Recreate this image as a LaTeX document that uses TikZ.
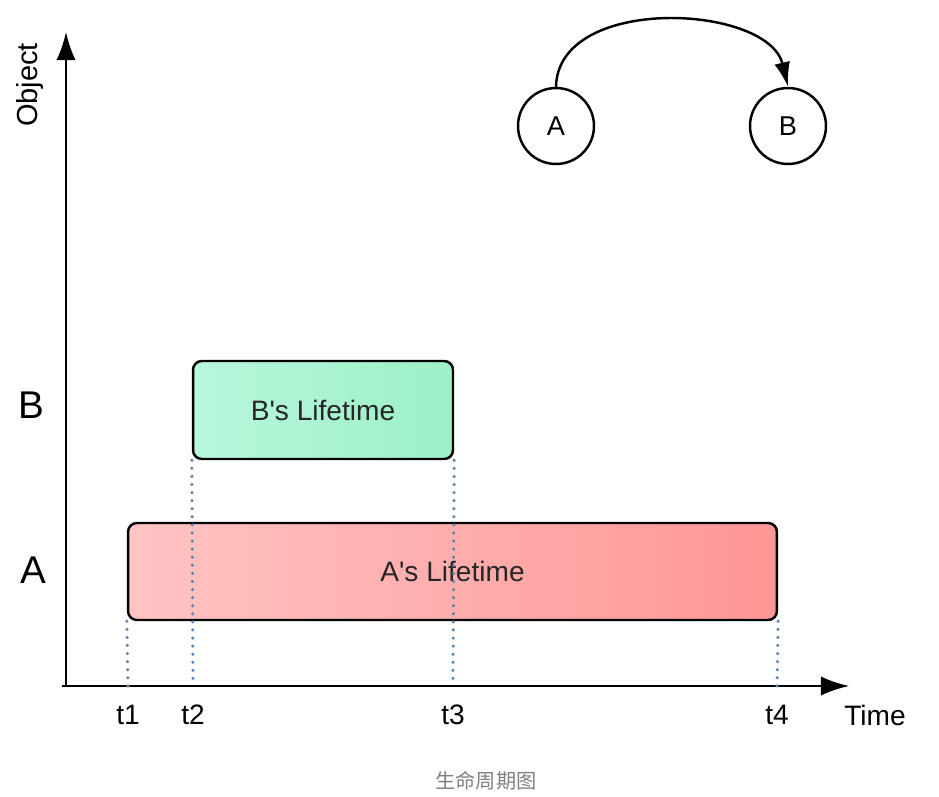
\documentclass[tikz,border=0pt]{standalone}
\usepackage{fontspec}
\setmainfont{Liberation Sans}
\newfontfamily\cjk{Noto Sans CJK SC}
\usetikzlibrary{arrows.meta}

\definecolor{bfillL}{RGB}{184,247,220}
\definecolor{bfillR}{RGB}{156,240,200}
\definecolor{afillL}{RGB}{255,196,196}
\definecolor{afillR}{RGB}{255,150,150}
\definecolor{dotblue}{RGB}{95,135,175}

\tikzset{
	axis/.style={line width=1.4pt, -{Latex[length=16pt,width=11pt]}},
	lifebox/.style={draw, line width=1.4pt, rounded corners=5pt, font=\fontsize{16}{18}\selectfont, text=black!85},
	objnode/.style={circle, draw, line width=1.4pt, minimum size=1.52cm, font=\fontsize{15.5}{17}\selectfont},
	guide/.style={dotblue, line width=2pt, line cap=round, dash pattern=on 0pt off 4.6pt},
	tick/.style={font=\fontsize{16}{18}\selectfont}
}

\begin{document}
\begin{tikzpicture}[x=0.02cm, y=-0.02cm]

	\useasboundingbox (0,0) rectangle (939,797);

	% axes
	\coordinate (o) at (66,686);
	\coordinate (ytop) at (66,32);
	\coordinate (xstart) at (62,686);
	\coordinate (xend) at (849,686);
	\draw[axis] (o) -- (ytop);
	\draw[axis] (xstart) -- (xend);

	\node (ylab) [rotate=90, font=\fontsize{16.5}{18}\selectfont] at (30,85) {Object};
	\node (xlab) [tick] at (875,715) {Time};
	\node (yb) [font=\fontsize{22}{24}\selectfont] at (31,405) {B};
	\node (ya) [font=\fontsize{22}{24}\selectfont] at (33,570) {A};

	% lifetimes
	\node (lb) [lifebox, left color=bfillL, right color=bfillR, minimum width=5.2cm, minimum height=1.96cm] at (323,410) {B\textquotesingle s Lifetime};
	\node (la) [lifebox, left color=afillL, right color=afillR, minimum width=12.98cm, minimum height=1.94cm] at (452.5,571.5) {A\textquotesingle s Lifetime};

	% ticks
	\coordinate (t1) at (128,686);
	\coordinate (t2) at (193,686);
	\coordinate (t3) at (453,686);
	\coordinate (t4) at (777,686);
	\node (lt1) [tick] at (128,715) {t1};
	\node (lt2) [tick] at (193,715) {t2};
	\node (lt3) [tick] at (453,715) {t3};
	\node (lt4) [tick] at (777,715) {t4};

	\draw[guide] (la.south west) -- (t1);
	\draw[guide] (lb.south west) -- (t2);
	\draw[guide] (lb.south east) -- (t3);
	\draw[guide] (la.south east) -- (t4);

	% objects
	\node (a) [objnode] at (556,126) {A};
	\node (b) [objnode] at (788,126) {B};
	\draw[line width=1.4pt, -{Latex[length=14pt,width=9pt]}]
	(a.north) .. controls (558,-6) and (768,4) .. (b.north);

	\node (cap) [font=\cjk\fontsize{11.5}{13}\selectfont, text=black!50] at (486,781) {生命周期图};

\end{tikzpicture}
\end{document}
